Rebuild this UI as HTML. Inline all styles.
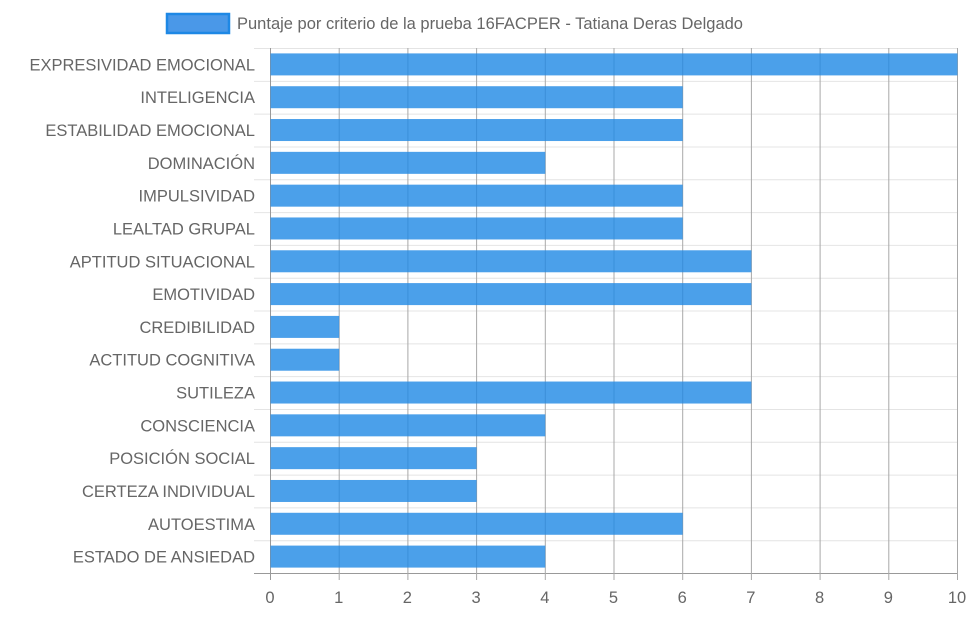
<!DOCTYPE html>
<html><head><meta charset="utf-8"><style>
body{margin:0;background:#fff;}
svg text{font-family:"Liberation Sans",Arial,sans-serif;fill:#666;font-size:16.5px;}
</style></head><body>
<svg id="chart" width="972" height="615" xmlns="http://www.w3.org/2000/svg">
<g id="legend">
<rect x="167" y="14" width="62" height="19" fill="#4a98e8" stroke="#1e88e5" stroke-width="2.5"/>
<text x="237" y="29">Puntaje por criterio de la prueba 16FACPER - Tatiana Deras Delgado</text>
</g>
<g id="grid"></g><g id="bars"></g><g id="labels"></g>
</svg>
<script>
const categories=["EXPRESIVIDAD EMOCIONAL","INTELIGENCIA","ESTABILIDAD EMOCIONAL","DOMINACIÓN","IMPULSIVIDAD","LEALTAD GRUPAL","APTITUD SITUACIONAL","EMOTIVIDAD","CREDIBILIDAD","ACTITUD COGNITIVA","SUTILEZA","CONSCIENCIA","POSICIÓN SOCIAL","CERTEZA INDIVIDUAL","AUTOESTIMA","ESTADO DE ANSIEDAD"];
const values=[10,6,6,4,6,6,7,7,1,1,7,4,3,3,6,4];
const xTicks=[0,1,2,3,4,5,6,7,8,9,10];
const NS="http://www.w3.org/2000/svg";
const L=270,R=957,T=48,B=573,xMax=10;
const x=v=>L+(v/xMax)*(R-L);
const band=(B-T)/categories.length;
const y=i=>T+i*band;
function mk(tag,attrs,parent){const e=document.createElementNS(NS,tag);for(const k in attrs)e.setAttribute(k,attrs[k]);parent.appendChild(e);return e;}
const grid=document.getElementById('grid'),bars=document.getElementById('bars'),labels=document.getElementById('labels');
for(let i=0;i<=categories.length;i++){
  const l=mk('line',{x1:254,x2:R,y1:y(i)+0.5,y2:y(i)+0.5,stroke:i==categories.length?'#999':'#e4e4e4','stroke-width':1},grid);
  
  
}
xTicks.forEach(t=>{
  const l=mk('line',{x1:x(t)+0.5,x2:x(t)+0.5,y1:T,y2:B+7,stroke:t==0?'#999':'#a8a8a8','stroke-width':1},grid);
  
  
  const tx=mk('text',{x:x(t),y:B+30,'text-anchor':'middle'},labels);
  tx.textContent=t;
  
  
});
categories.forEach((c,i)=>{
  const bh=22,cy=y(i)+band/2;
  const r=mk('rect',{x:x(0)+0.5,y:cy-bh/2,width:x(values[i])-x(0),height:bh,fill:'rgba(30,136,229,0.8)'},bars);
  
  
  const tx=mk('text',{x:255,y:cy+6,'text-anchor':'end'},labels);
  tx.textContent=c;
  
  
});
</script>
</body></html>
